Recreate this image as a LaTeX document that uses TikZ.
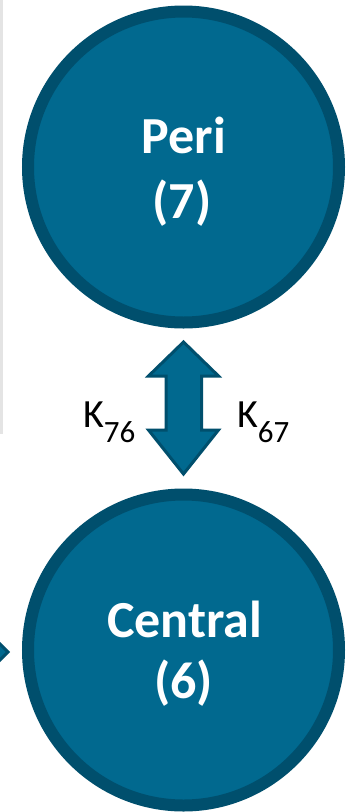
\documentclass[tikz,border=0pt]{standalone}
\usepackage{fontspec}
\setmainfont{Carlito}
\definecolor{cfill}{HTML}{01698F}
\definecolor{cline}{HTML}{004F6D}
\definecolor{gline}{HTML}{E4E4E4}
\begin{document}
\begin{tikzpicture}[x=1pt,y=-1pt,
  comp/.style={circle,draw=cline,fill=cfill,line width=12pt,minimum size=311pt,inner sep=0pt},
  ctext/.style={text=white,font=\bfseries\fontsize{52}{52}\selectfont,anchor=base,inner sep=0pt},
  klabel/.style={anchor=base west,inner sep=0pt,font=\fontsize{40}{40}\selectfont},
  arr/.style={draw=cline,fill=cfill,line width=3pt,line join=miter}]
\useasboundingbox (0,0) rectangle (347,812);
\fill[white] (0,0) rectangle (347,812);
\coordinate (gtop) at (1.5,0);
\coordinate (gbot) at (1.5,434);
\draw[gline,line width=3pt] (gtop) -- (gbot);
\begin{scope}
\clip (0,0) rectangle (347,812);
\draw[arr] (-12,632) -- (8,652) -- (-12,672) -- cycle;
\end{scope}
\node[comp] (peri) at (183.5,167) {};
\node[comp] (central) at (183.5,650) {};
\node[ctext] (peri1) at (184,153) {Peri};
\node[ctext] (peri2) at (182,218) {(7)};
\node[ctext] (cen1) at (184.5,637) {Central};
\node[ctext] (cen2) at (183.5,698) {(6)};
\draw[arr] (183.5,342) -- (218.5,376) -- (201.5,376) -- (201.5,430) -- (218.5,430)
  -- (183.5,474) -- (148.5,430) -- (166,430) -- (166,376) -- (148.5,376) -- cycle;
\node[klabel] (k76) at (83,427) {K\raisebox{-15pt}{\fontsize{31}{31}\selectfont 76}};
\node[klabel] (k67) at (237,427) {K\raisebox{-15pt}{\fontsize{31}{31}\selectfont 67}};
\end{tikzpicture}
\end{document}
